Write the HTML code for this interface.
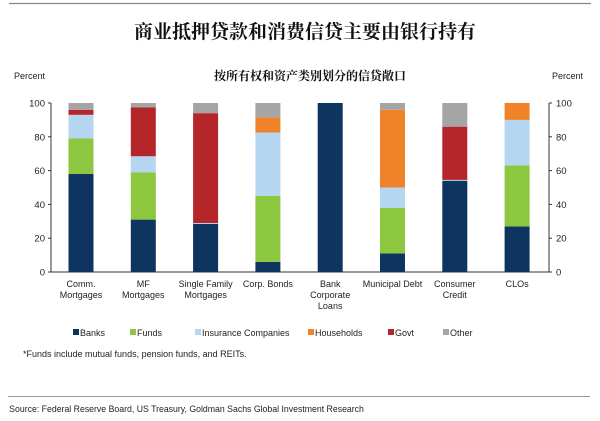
<!DOCTYPE html>
<html><head><meta charset="utf-8"><style>
body{margin:0;background:#fff;width:600px;height:421px;overflow:hidden}
svg{display:block}
text{font-family:"Liberation Sans",Arial,sans-serif;fill:#222}
.cn{font-family:"Noto Serif CJK SC","Noto Sans CJK SC",serif;font-weight:bold;fill:#111}
</style></head><body>
<svg id="chart" width="600" height="421" viewBox="0 0 600 421">
<line x1="9" y1="3.5" x2="591" y2="3.5" stroke="#888" stroke-width="1.2"/>
<text class="cn" x="305" y="38" font-size="19" text-anchor="middle">商业抵押贷款和消费信贷主要由银行持有</text>
<text class="cn" x="310" y="80" font-size="12" text-anchor="middle">按所有权和资产类别划分的信贷敞口</text>
<text x="14" y="79" font-size="9">Percent</text>
<text x="552" y="79" font-size="9">Percent</text>
<g id="plot"></g>
<g id="legend"></g>
<text x="23" y="357" font-size="9">*Funds include mutual funds, pension funds, and REITs.</text>
<line x1="8" y1="396.5" x2="590" y2="396.5" stroke="#999" stroke-width="1"/>
<text x="10" y="412" font-size="9.5" transform="scale(0.92,1)" style="font-family:'Liberation Sans Narrow','Liberation Sans',sans-serif">Source: Federal Reserve Board, US Treasury, Goldman Sachs Global Investment Research</text>
</svg>
<script>
const categories=[["Comm.","Mortgages"],["MF","Mortgages"],["Single Family","Mortgages"],["Corp. Bonds"],["Bank","Corporate","Loans"],["Municipal Debt"],["Consumer","Credit"],["CLOs"]];
const seriesNames=["Banks","Funds","Insurance Companies","Households","Govt","Other"];
const banks=[58,31,28.5,6,100,11,54,27];
const funds=[21,28,0,39,0,27,0,36];
const insurance=[14,9.5,0.5,37.5,0,12,0.5,27];
const households=[0,0,0,9,0,46,0,10];
const govt=[3,29,65,0,0,0,31.5,0];
const other=[4,2.5,6,8.5,0,4,14,0];
const ticks=[0,20,40,60,80,100];
const colors=["#0d3560","#8dc63f","#b4d6f0","#f0822a","#b5262b","#a5a5a5"];
const series=[banks,funds,insurance,households,govt,other];
const NS="http://www.w3.org/2000/svg";
const plot=document.getElementById('plot');
const y0=272,y100=103,xL=51,xR=549,x0=81,step=62.3,bw=25;
const y=v=>y0-(y100-y0)*-v/100;
const x=i=>x0+i*step;
function mk(t,a){const e=document.createElementNS(NS,t);for(const k in a)e.setAttribute(k,a[k]);return e;}
let ax=mk('line',{x1:xL,y1:y100,x2:xL,y2:y0,stroke:'#333','stroke-width':1});


plot.appendChild(ax);
let ax2=mk('line',{x1:xR,y1:y100,x2:xR,y2:y0,stroke:'#333','stroke-width':1});


plot.appendChild(ax2);
let base=mk('line',{x1:xL,y1:y0,x2:xR,y2:y0,stroke:'#333','stroke-width':1});


plot.appendChild(base);
ticks.forEach(t=>{
  const yy=y(t);
  [[xL-3,xL,xL-6,'end','left'],[xR,xR+3,xR+7,'start','right']].forEach(s=>{
    const tl=mk('line',{x1:s[0],y1:yy,x2:s[1],y2:yy,stroke:'#333'});
    
    
    plot.appendChild(tl);
    const tx=mk('text',{x:s[2],y:yy+3.5,'font-size':9.5,'text-anchor':s[3]});
    tx.textContent=t;
    
    
    plot.appendChild(tx);
  });
});
categories.forEach((c,i)=>{
  let cum=0;
  series.forEach((s,k)=>{
    const v=s[i]; if(!v) return;
    const r=mk('rect',{x:x(i)-bw/2,y:y(cum+v),width:bw,height:y(cum)-y(cum+v),fill:colors[k]});
    
    
    plot.appendChild(r);
    cum+=v;
  });
  c.forEach((ln,j)=>{
    const t=mk('text',{x:x(i),y:y0+15+j*11,'font-size':9,'text-anchor':'middle'});
    t.textContent=ln;
    
    
    plot.appendChild(t);
  });
});
const lg=document.getElementById('legend');
const lx=[73,130,195,308,388,443];
seriesNames.forEach((n,k)=>{
  const g=mk('g',{});
  
  
  g.appendChild(mk('rect',{x:lx[k],y:329,width:6,height:6,fill:colors[k]}));
  const t=mk('text',{x:lx[k]+7,y:336,'font-size':9});
  t.textContent=n;
  g.appendChild(t);
  lg.appendChild(g);
});
</script>
</body></html>
